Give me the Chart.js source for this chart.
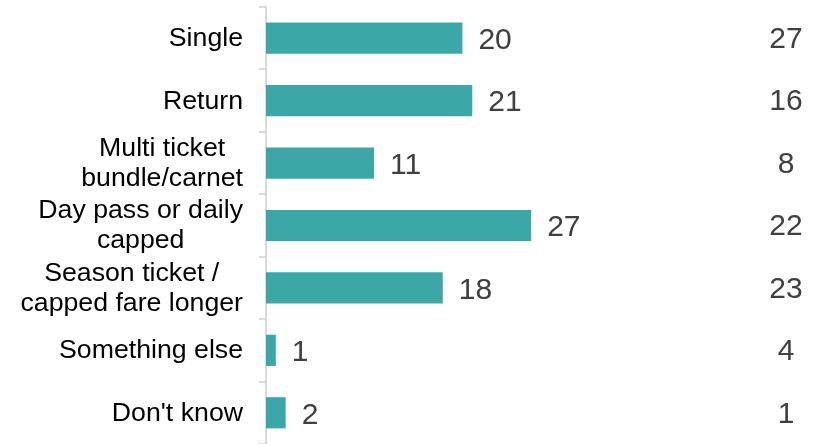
<!DOCTYPE html>
<html>
<head>
<meta charset="utf-8">
<script src="https://cdn.jsdelivr.net/npm/chart.js@4.4.1/dist/chart.umd.min.js"></script>
<style>
  html, body { margin: 0; padding: 0; background: #ffffff; }
  #wrap { width: 823px; height: 444px; position: relative; }
</style>
</head>
<body>
<div id="wrap"><canvas id="c" width="823" height="444"></canvas></div>
<script>
const categories = [
  ["Single"],
  ["Return"],
  ["Multi ticket", "bundle/carnet"],
  ["Day pass or daily", "capped"],
  ["Season ticket /", "capped fare longer"],
  ["Something else"],
  ["Don't know"]
];
const seriesValues = [20, 21, 11, 27, 18, 1, 2];
const secondColumnValues = [27, 16, 8, 22, 23, 4, 1];

const FONT = '"Liberation Sans", Arial, sans-serif';
const BAR_COLOR = '#3BA7A7';
const LABEL_COLOR = '#000000';
const VALUE_COLOR = '#404040';

const textPlugin = {
  id: 'textPlugin',
  afterDatasetsDraw(chart) {
    const ctx = chart.ctx;
    const yScale = chart.scales.y;
    const meta = chart.getDatasetMeta(0);
    ctx.save();
    ctx.font = '26.7px ' + FONT;
    ctx.fillStyle = LABEL_COLOR;
    ctx.textBaseline = 'middle';
    ctx.textAlign = 'center';
    const rightX = yScale.right - 7 - 16;
    const lineH = 30;
    categories.forEach((lines, i) => {
      const cy = yScale.getPixelForValue(i);
      let widest = 0;
      lines.forEach(l => { widest = Math.max(widest, ctx.measureText(l).width); });
      const cx = rightX - widest / 2;
      lines.forEach((l, j) => {
        ctx.fillText(l, cx, cy + (j - (lines.length - 1) / 2) * lineH + 0.5);
      });
    });
    ctx.font = '30px ' + FONT;
    ctx.fillStyle = VALUE_COLOR;
    ctx.textAlign = 'left';
    meta.data.forEach((bar, i) => {
      ctx.fillText(String(seriesValues[i]), bar.x + 16, bar.y + 2.5);
    });
    ctx.textAlign = 'center';
    secondColumnValues.forEach((v, i) => {
      ctx.fillText(String(v), 786, yScale.getPixelForValue(i) + 1.5);
    });
    ctx.restore();
  }
};

new Chart(document.getElementById('c'), {
  type: 'bar',
  data: {
    labels: categories,
    datasets: [{
      data: seriesValues,
      backgroundColor: BAR_COLOR,
      borderWidth: 0,
      categoryPercentage: 1.0,
      barPercentage: 0.5
    }]
  },
  options: {
    indexAxis: 'y',
    responsive: false,
    devicePixelRatio: 1,
    animation: false,
    layout: { padding: { top: 7, bottom: 0, left: 0, right: 7 } },
    plugins: {
      legend: { display: false },
      tooltip: { enabled: false },
      title: { display: false }
    },
    scales: {
      x: {
        display: false,
        min: 0,
        max: 56
      },
      y: {
        afterFit(scale) { scale.width = 266; },
        ticks: { display: false },
        grid: {
          drawOnChartArea: false,
          drawTicks: true,
          tickLength: 7,
          color: '#d9d9d9',
          lineWidth: 2,
          offset: true
        },
        border: { display: true, color: '#d9d9d9', width: 2 }
      }
    }
  },
  plugins: [textPlugin]
});
</script>
</body>
</html>
